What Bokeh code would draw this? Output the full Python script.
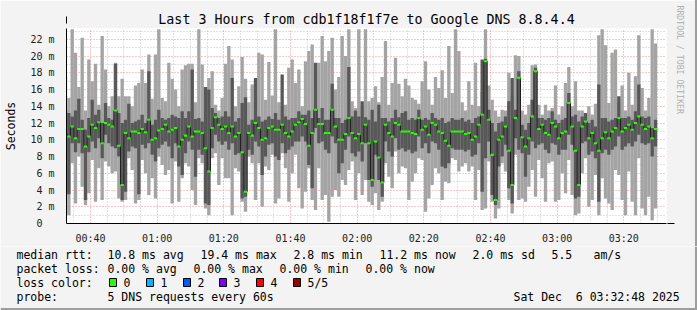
from bokeh.plotting import figure
from bokeh.models import (FixedTicker, Arrow, NormalHead, ColumnDataSource, Range1d, Grid,
                          Title, Spacer)
from bokeh.layouts import column, row
from bokeh.core.properties import value
from bokeh.embed import file_html
from bokeh.resources import INLINE

# ---------------- data (ms) : one value per minute, first column = 00:33 ----------------
first_minute = 33
median = [
    10.8, 10.4, 11.6, 10.2, 11.3, 11.3, 9.2, 10.4, 11.8, 11.4,
    12.1, 9.6, 12.0, 11.8, 11.6, 13.5, 9.3, 4.6, 10.8, 10.2,
    11.0, 11.0, 10.8, 11.3, 10.9, 12.4, 10.0, 10.2, 11.1, 11.3,
    11.8, 11.0, 11.2, 11.4, 9.2, 10.0, 10.5, 11.6, 10.4, 11.0,
    11.0, 10.8, 9.0, 6.2, 11.4, 12.7, 11.8, 11.3, 11.6, 10.8,
    11.6, 10.4, 10.8, 8.5, 3.8, 10.8, 10.5, 12.0, 11.4, 10.0,
    10.2, 11.4, 11.6, 11.2, 11.2, 11.8, 10.8, 10.4, 11.0, 11.8,
    12.1, 12.5, 11.9, 9.3, 10.8, 13.6, 11.9, 11.9, 10.8, 10.8,
    13.6, 11.6, 10.0, 10.0, 10.7, 12.6, 10.8, 10.2, 10.7, 9.6,
    11.8, 9.6, 5.2, 9.8, 7.9, 4.9, 11.8, 10.8, 10.4, 12.0,
    11.8, 11.0, 11.0, 11.0, 10.8, 10.7, 12.6, 11.2, 11.6, 10.6,
    12.0, 11.8, 11.0, 10.8, 9.9, 9.3, 11.0, 11.0, 11.0, 11.0,
    10.7, 10.8, 10.0, 10.4, 11.8, 13.0, 19.4, 12.4, 8.2, 2.8,
    10.0, 10.4, 11.6, 8.7, 4.6, 12.6, 17.4, 10.3, 9.2, 10.2,
    12.8, 18.2, 11.3, 11.8, 10.8, 10.6, 12.0, 11.6, 10.2, 10.8,
    11.0, 14.4, 11.6, 8.7, 4.6, 11.6, 12.2, 10.2, 10.8, 9.6,
    8.7, 10.2, 10.9, 10.2, 11.0, 11.4, 12.6, 11.0, 11.4, 11.8,
    11.2, 12.0, 12.8, 11.8, 11.3, 11.6, 10.2, 11.3,
]
ping_max = [
    17.6, 15.0, 23.2, 20.4, 16.3, 22.2, 13.5, 19.6, 17.0, 19.1,
    14.2, 22.4, 18.4, 14.0, 15.2, 19.2, 15.2, 17.3, 15.2, 15.2,
    14.0, 16.5, 16.8, 18.4, 16.8, 20.2, 14.9, 20.2, 23.2, 15.0,
    14.6, 19.2, 17.3, 16.0, 14.0, 18.4, 18.9, 19.1, 19.1, 14.5,
    23.2, 19.0, 16.3, 17.4, 18.2, 14.2, 13.5, 15.0, 19.1, 21.2,
    19.6, 14.0, 16.4, 19.9, 17.3, 14.5, 16.6, 16.6, 20.4, 20.2,
    14.8, 19.3, 15.3, 23.2, 14.5, 14.0, 14.2, 18.6, 19.6, 16.8,
    18.4, 14.0, 19.4, 20.6, 21.4, 16.3, 19.2, 22.4, 19.4, 20.6,
    22.2, 16.0, 17.5, 22.4, 20.0, 23.2, 14.6, 13.8, 23.2, 14.0,
    23.2, 14.6, 15.0, 16.4, 14.5, 17.5, 21.8, 14.2, 16.8, 19.8,
    16.7, 15.2, 17.3, 16.5, 15.0, 14.8, 14.3, 17.0, 19.4, 16.0,
    14.2, 17.5, 16.2, 18.3, 15.0, 21.2, 15.6, 23.2, 20.6, 14.5,
    13.5, 17.0, 14.2, 19.2, 14.0, 15.7, 23.2, 16.5, 14.8, 13.5,
    12.8, 13.6, 13.5, 18.0, 15.2, 20.1, 20.0, 13.5, 13.0, 14.2,
    18.9, 19.0, 14.2, 13.0, 14.2, 13.5, 13.8, 16.5, 13.0, 14.0,
    16.8, 18.7, 14.0, 17.0, 13.5, 13.5, 13.0, 14.0, 13.0, 14.3,
    22.5, 23.2, 21.3, 14.4, 20.4, 20.8, 14.5, 16.5, 13.5, 18.0,
    14.2, 17.6, 22.5, 16.2, 13.5, 15.0, 23.2, 21.5,
]
ping_hi = [
    13.5, 13.2, 12.8, 13.5, 14.9, 12.4, 11.2, 12.6, 14.8, 13.0,
    13.6, 12.0, 14.4, 12.6, 12.4, 19.1, 13.2, 12.0, 12.4, 14.3,
    12.0, 12.2, 12.4, 13.0, 12.0, 18.2, 11.8, 12.4, 13.6, 12.6,
    12.4, 12.6, 13.0, 12.8, 12.6, 13.4, 12.6, 13.4, 18.4, 12.5,
    12.6, 12.2, 16.3, 16.0, 13.8, 13.2, 12.6, 12.8, 13.4, 12.8,
    17.4, 12.2, 12.6, 14.4, 15.1, 11.8, 12.4, 17.4, 12.8, 12.2,
    12.4, 12.8, 12.5, 13.2, 12.4, 17.8, 12.8, 12.4, 12.6, 12.6,
    13.4, 13.0, 13.0, 13.5, 12.6, 19.2, 12.6, 13.8, 12.4, 12.4,
    16.7, 12.6, 12.6, 12.0, 12.4, 18.7, 12.8, 13.5, 12.8, 14.6,
    12.7, 12.4, 13.6, 12.2, 14.2, 12.6, 12.6, 12.2, 12.6, 13.6,
    12.7, 13.2, 13.4, 12.4, 12.6, 12.4, 13.6, 12.4, 12.6, 12.4,
    13.2, 12.6, 12.4, 12.6, 12.0, 12.2, 12.6, 12.4, 12.4, 12.6,
    12.2, 12.4, 12.0, 12.6, 12.8, 19.6, 19.7, 13.6, 12.0, 11.0,
    12.0, 12.2, 12.8, 14.6, 17.4, 13.6, 18.2, 11.8, 11.2, 12.0,
    14.8, 18.6, 12.6, 12.6, 12.4, 12.6, 13.4, 12.4, 12.0, 12.4,
    12.6, 15.6, 12.8, 13.0, 12.2, 12.8, 13.2, 12.0, 12.4, 11.6,
    16.6, 12.6, 12.6, 12.2, 12.4, 12.6, 15.2, 12.6, 12.6, 12.8,
    12.4, 13.4, 16.6, 12.8, 12.6, 12.8, 11.4, 12.4,
]
ping_lo = [
    9.0, 3.5, 9.6, 8.5, 9.6, 8.4, 2.8, 8.5, 9.8, 9.0,
    10.2, 7.8, 10.6, 9.6, 9.2, 9.0, 8.0, 2.8, 3.8, 8.6,
    9.2, 9.0, 3.5, 9.4, 9.0, 9.6, 8.2, 7.4, 9.0, 9.4,
    9.8, 9.2, 7.8, 9.6, 6.8, 5.8, 8.4, 9.8, 8.8, 5.6,
    8.8, 8.2, 2.4, 2.2, 9.0, 10.6, 9.8, 9.4, 9.8, 8.8,
    9.6, 8.2, 8.4, 3.0, 3.2, 8.8, 8.2, 9.8, 9.2, 5.8,
    8.0, 9.4, 9.6, 8.0, 7.6, 9.6, 8.4, 8.8, 9.2, 9.8,
    9.8, 10.4, 9.8, 7.0, 4.2, 11.4, 9.6, 9.8, 8.8, 8.4,
    10.4, 9.6, 6.0, 7.2, 8.8, 10.4, 8.4, 8.0, 8.6, 7.4,
    9.6, 5.2, 4.4, 8.2, 5.2, 3.2, 9.8, 8.6, 8.0, 10.2,
    8.8, 9.0, 8.6, 8.8, 8.4, 8.6, 10.4, 9.0, 9.6, 8.4,
    9.8, 9.6, 8.8, 6.8, 6.6, 7.2, 9.0, 8.8, 8.8, 8.8,
    8.6, 8.8, 8.0, 8.2, 9.6, 3.8, 7.8, 9.8, 3.4, 2.2,
    6.8, 8.0, 9.4, 4.2, 2.4, 10.2, 8.8, 8.4, 5.6, 8.2,
    9.8, 9.0, 9.4, 9.6, 8.8, 8.4, 9.6, 9.4, 8.2, 8.8,
    8.8, 10.6, 9.4, 3.0, 3.2, 9.6, 9.8, 8.2, 8.6, 7.8,
    2.6, 8.4, 8.8, 8.2, 8.8, 9.2, 10.4, 8.8, 9.2, 9.6,
    9.2, 9.8, 10.6, 9.6, 9.4, 9.6, 8.0, 9.2,
]
ping_min = [
    2.7, 1.0, 7.2, 2.4, 8.0, 4.4, 2.2, 3.6, 7.6, 2.6,
    6.6, 2.8, 7.4, 6.8, 6.0, 6.2, 3.0, 2.6, 2.8, 7.8,
    6.4, 2.4, 2.8, 7.6, 6.0, 3.4, 5.4, 3.0, 8.0, 7.0,
    5.8, 6.4, 2.4, 7.4, 2.6, 5.4, 7.2, 6.8, 4.0, 2.2,
    7.8, 7.2, 1.8, 1.0, 7.8, 8.4, 4.6, 7.8, 5.4, 5.4,
    1.0, 6.6, 6.2, 2.6, 1.4, 8.0, 7.2, 2.8, 7.2, 2.0,
    6.8, 6.4, 8.2, 2.4, 3.0, 8.4, 6.6, 2.6, 6.0, 8.2,
    4.2, 1.8, 3.8, 6.6, 2.8, 1.6, 6.6, 2.8, 3.4, 0.2,
    3.2, 4.0, 3.2, 5.2, 4.6, 6.4, 7.4, 2.8, 6.0, 3.4,
    5.2, 2.6, 2.2, 3.6, 1.6, 2.6, 7.2, 5.6, 4.2, 8.6,
    6.0, 6.8, 6.6, 2.8, 5.0, 6.0, 7.8, 7.6, 1.4, 3.0,
    4.6, 6.6, 6.0, 2.8, 5.0, 4.8, 7.8, 7.6, 6.2, 6.8,
    7.2, 6.2, 6.8, 2.8, 6.4, 1.6, 1.8, 7.4, 2.6, 0.6,
    1.8, 7.2, 6.2, 2.8, 1.2, 8.2, 2.8, 3.0, 2.6, 4.4,
    6.4, 3.2, 7.6, 5.4, 2.6, 7.2, 7.4, 2.6, 2.8, 6.0,
    3.6, 7.6, 3.4, 1.0, 1.2, 6.0, 7.8, 2.0, 2.8, 5.8,
    1.0, 5.4, 3.0, 2.4, 1.6, 6.4, 5.8, 2.8, 1.0, 6.2,
    2.6, 1.0, 7.8, 1.8, 1.0, 3.2, 0.4, 1.8,
]
loss = [0] * len(median)

loss_colors = ["#26ff00", "#00b8ff", "#0059ff", "#7e00ff", "#ff0000", "#a10000"]
loss_names = ["0", "1", "2", "3", "4", "5/5"]

x_tick_minutes = [40, 60, 80, 100, 120, 140, 160, 180, 200]
x_tick_labels = ["00:40", "01:00", "01:20", "01:40", "02:00", "02:20", "02:40", "03:00", "03:20"]
y_ticks = [0, 2, 4, 6, 8, 10, 12, 14, 16, 18, 20, 22]
y_tick_labels = ["0\u00a0\u00a0", "2 m", "4 m", "6 m", "8 m", "10 m", "12 m", "14 m",
                 "16 m", "18 m", "20 m", "22 m"]

title = "Last 3 Hours from cdb1f18f1f7e to Google DNS 8.8.4.4"
legend_texts = ["median rtt:", "10.8 ms avg", "19.4 ms max", "2.8 ms min", "11.2 ms now",
                "2.0 ms sd", "5.5", "am/s",
                "packet loss:", "0.00 % avg", "0.00 % max", "0.00 % min", "0.00 % now",
                "loss color:", "probe:", "5 DNS requests every 60s",
                "Sat Dec \u00a06 03:32:48 2025"]

# ---------------- layout constants (pixels) ----------------
W, H = 697, 310
TOP_H = 246                      # upper figure: title + graph + time axis
FL, FR, FT, FB = 66, 668, 28, 228
X0, X1 = 32.8, 212.8
Y0, Y1 = 0.0, 23.3
MONO = "DejaVu Sans Mono"
BG = "#f3f3f3"

p = figure(width=W - 2, height=TOP_H, output_backend="svg", toolbar_location=None,
           x_range=Range1d(X0, X1), y_range=Range1d(Y0, Y1),
           min_border_left=FL, min_border_right=W - 2 - FR, min_border_top=FT,
           min_border_bottom=TOP_H - FB)
p.background_fill_color = "white"
p.border_fill_color = BG
p.outline_line_color = None
p.title.text = title
p.title.text_font = MONO
p.title.text_font_size = "13.3px"
p.title.text_font_style = "normal"
p.title.align = "center"
p.title.text_color = "black"
p.title.standoff = 3

p.add_layout(Title(text="RRDTOOL / TOBI OETIKER", align="left", text_font=MONO,
                   text_font_size="8.2px", text_font_style="normal", text_color="#b0b0b0",
                   standoff=17, offset=-23), "right")

lefts = [first_minute - 1 + i for i in range(len(median))]
rights = [v + 1 for v in lefts]
src = ColumnDataSource(dict(left=lefts, right=rights, mn=ping_min, lo=ping_lo,
                            med=median, hi=ping_hi, mx=ping_max,
                            mlo=[m - 0.12 for m in median], mhi=[m + 0.12 for m in median],
                            col=[loss_colors[l] for l in loss]))
p.quad(left="left", right="right", bottom="mn", top="mx", source=src,
       fill_color="#a4a4a4", line_color=None)
p.quad(left="left", right="right", bottom="lo", top="hi", source=src,
       fill_color="#585858", line_color=None)
p.step(x=lefts + [rights[-1]], y=median + [median[-1]], mode="after",
       line_color="#202020", line_width=1)
p.quad(left="left", right="right", bottom="mlo", top="mhi", source=src,
       fill_color="col", line_color=None)

# axes
p.xaxis.ticker = FixedTicker(ticks=x_tick_minutes)
p.xaxis.major_label_overrides = dict(zip(x_tick_minutes, x_tick_labels))
p.yaxis.ticker = FixedTicker(ticks=y_ticks)
p.yaxis.major_label_overrides = dict(zip(y_ticks, y_tick_labels))
for ax in (p.xaxis, p.yaxis):
    ax.axis_line_color = "black"
    ax.major_tick_line_color = None
    ax.minor_tick_line_color = None
    ax.major_label_text_font = MONO
    ax.major_label_text_font_size = "10px"
    ax.major_label_text_color = "#222222"
p.xaxis.major_label_standoff = 3
p.yaxis.major_label_standoff = 6
p.yaxis.axis_label = "Seconds"
p.yaxis.axis_label_text_font = MONO
p.yaxis.axis_label_text_font_size = "11.5px"
p.yaxis.axis_label_text_font_style = "normal"
p.yaxis.axis_label_text_color = "black"
p.yaxis.axis_label_standoff = 9

# grids (under the smoke, as rrdtool draws them)
minor_x = [m for m in range(35, 212, 5) if m not in x_tick_minutes]
minor_y = [v for v in range(1, 24) if v % 2 == 1]
p.xgrid.ticker = FixedTicker(ticks=minor_x)
p.ygrid.ticker = FixedTicker(ticks=minor_y)
for g in (p.xgrid, p.ygrid):
    g.grid_line_color = "#c4c4c4"
    g.grid_line_dash = "1 2"
p.add_layout(Grid(dimension=0, ticker=FixedTicker(ticks=x_tick_minutes),
                  grid_line_color="#f09090", grid_line_dash="1 2"))
p.add_layout(Grid(dimension=1, ticker=FixedTicker(ticks=y_ticks[1:]),
                  grid_line_color="#f09090", grid_line_dash="1 2"))

# arrow heads at the ends of the axes (positions relative to the frame, in px)
p.add_layout(Arrow(x_start=FR - FL - 2, y_start=0, x_end=674 - FL, y_end=0,
                   start_units="screen", end_units="screen", line_color="black", line_width=1,
                   end=NormalHead(size=7, fill_color="#a01010", line_color="#a01010")))
p.add_layout(Arrow(x_start=0, y_start=FB - FT - 2, x_end=0, y_end=FB - 21,
                   start_units="screen", end_units="screen", line_color="black", line_width=1,
                   end=NormalHead(size=7, fill_color="#a01010", line_color="#a01010")))

# ---------------- lower figure: legend text, drawn in pixel coordinates ----------------
BOT_H = H - TOP_H
q = figure(width=W, height=BOT_H, output_backend="svg", toolbar_location=None,
           x_range=Range1d(0, W), y_range=Range1d(H, TOP_H),
           min_border=0, x_axis_location=None, y_axis_location=None)
q.background_fill_color = BG
q.border_fill_color = BG
q.outline_line_color = None
q.grid.visible = False

text_x = [16, 107, 200, 293, 379, 472, 551, 593,
          16, 107, 193, 279, 365,
          16, 16, 107, 513]
text_y = [254] * 8 + [268] * 5 + [282, 296, 296, 296]
q.text(x=text_x, y=text_y, text=legend_texts, text_font=value(MONO),
       text_font_size="11.5px", text_baseline="middle", text_align="left", text_color="black")

box_x = [109, 146, 183, 219, 256, 293]
q.quad(left=box_x, right=[b + 7 for b in box_x], top=[278] * 6, bottom=[286] * 6,
       fill_color=loss_colors, line_color="black", line_width=1)
q.text(x=[b + 14 for b in box_x], y=[282] * 6, text=loss_names, text_font=value(MONO),
       text_font_size="11.5px", text_baseline="middle", text_align="left", text_color="black")
# 3d frame of the image (right and bottom edges)
q.segment(x0=[0, 695.5], y0=[308.5, TOP_H], x1=[697, 695.5], y1=[308.5, 310],
          line_color="#9e9e9e", line_width=2)

edge = Spacer(width=2, height=TOP_H, styles={"background-color": "#9e9e9e"})
layout = column(row(p, edge), q)

open("out.html", "w").write(file_html(layout, INLINE))
